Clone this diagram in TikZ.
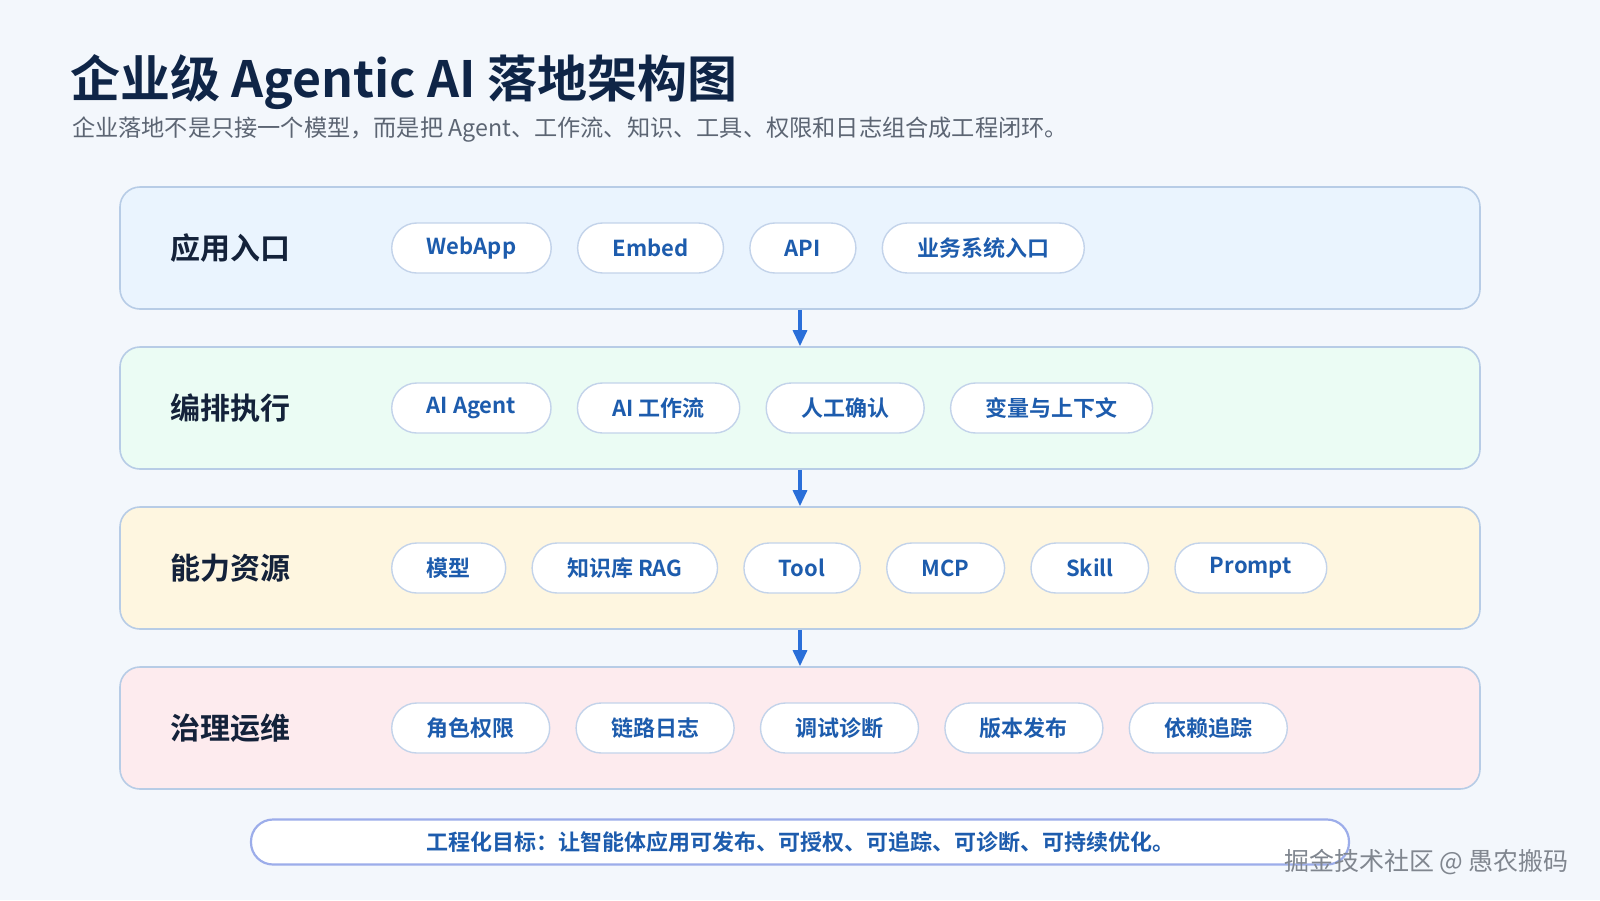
\documentclass[tikz,border=0pt]{standalone}
\usepackage{fontspec}
\setmainfont{Noto Sans CJK SC}[BoldFont={Noto Sans CJK SC Bold}]
\usetikzlibrary{positioning,arrows.meta,shadows}
\definecolor{pagebg}{HTML}{F3F7FC}
\definecolor{navy}{HTML}{0F2547}
\definecolor{subgray}{HTML}{5C6573}
\definecolor{rowline}{HTML}{B7CCE6}
\definecolor{pillline}{HTML}{C3D3EA}
\definecolor{pilltext}{HTML}{1D5CAD}
\definecolor{dtitle}{HTML}{14223A}
\definecolor{arrowblue}{HTML}{2A6FD9}
\definecolor{bluefill}{HTML}{EAF4FE}
\definecolor{greenfill}{HTML}{EBFCF4}
\definecolor{goldfill}{HTML}{FEF6E0}
\definecolor{pinkfill}{HTML}{FDEBEE}
\definecolor{markgray}{HTML}{80868F}

\tikzset{
  layer/.style={draw=rowline, line width=0.8pt, rounded corners=10pt,
    minimum width=680pt, minimum height=61pt},
  pill/.style={draw=pillline, fill=white, line width=0.7pt, rounded corners=12.5pt,
    minimum height=25pt, inner xsep=17.5pt, text=pilltext,
    font=\fontsize{11}{13}\selectfont\bfseries},
  layertitle/.style={anchor=west, text=dtitle, font=\fontsize{15}{17}\selectfont\bfseries},
  flow/.style={-{Triangle[length=8pt,width=7pt]}, line width=1.6pt, arrowblue}
}

\begin{document}
\begin{tikzpicture}[x=0.5pt,y=-0.5pt,node distance=12.5pt]
  \fill[pagebg] (0,0) rectangle (1600,900);
  \useasboundingbox (0,0) rectangle (1600,900);

  % title
  \node[anchor=west, text=navy, font=\fontsize{25}{29}\selectfont\bfseries] (title) at (63,82)
    {企业级 Agentic AI 落地架构图};
  \node[anchor=west, text=subgray, font=\fontsize{11.6}{14}\selectfont] (subtitle) at (65,130)
    {企业落地不是只接一个模型，而是把 Agent、工作流、知识、工具、权限和日志组合成工程闭环。};

  % layers
  \foreach \n/\y/\col/\label in {
    1/248/bluefill/应用入口,
    2/408/greenfill/编排执行,
    3/568/goldfill/能力资源,
    4/728/pinkfill/治理运维
  }{
    \node[layer, fill=\col] (r\n) at (800,\y) {};
    \node[layertitle] (r\n t) at (163,\y) {\label};
    \coordinate (r\n p0) at (366,\y);
  }

  % items
  \foreach \t [count=\i, remember=\i as \j (initially 0)] in {WebApp,Embed,API,业务系统入口}
    \node[pill, right=of r1p\j] (r1p\i) {\t};
  \foreach \t [count=\i, remember=\i as \j (initially 0)] in {AI Agent,AI 工作流,人工确认,变量与上下文}
    \node[pill, right=of r2p\j] (r2p\i) {\t};
  \foreach \t [count=\i, remember=\i as \j (initially 0)] in {模型,知识库 RAG,Tool,MCP,Skill,Prompt}
    \node[pill, right=of r3p\j] (r3p\i) {\t};
  \foreach \t [count=\i, remember=\i as \j (initially 0)] in {角色权限,链路日志,调试诊断,版本发布,依赖追踪}
    \node[pill, right=of r4p\j] (r4p\i) {\t};

  % flow between layers
  \draw[flow] (r1.south) -- (r2.north);
  \draw[flow] (r2.south) -- (r3.north);
  \draw[flow] (r3.south) -- (r4.north);

  % goal bar
  \node[draw=rowline!85!blue, line width=1.1pt, fill=white, rounded corners=11pt,
    minimum width=549pt, minimum height=22.5pt, text=pilltext,
    font=\fontsize{11}{13}\selectfont\bfseries] (goal) at (800,842)
    {工程化目标：让智能体应用可发布、可授权、可追踪、可诊断、可持续优化。};

  \node[anchor=east, text=markgray, font=\fontsize{12.5}{15}\selectfont] (mark) at (1576,862)
    {掘金技术社区 @ 愚农搬码};
\end{tikzpicture}
\end{document}
